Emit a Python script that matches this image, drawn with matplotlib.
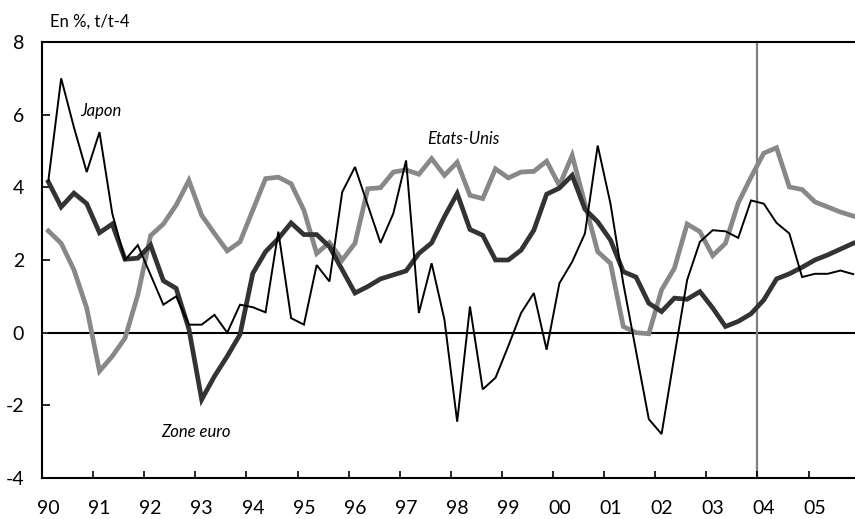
import numpy as np
import matplotlib
matplotlib.use("Agg")
import matplotlib.pyplot as plt

plt.rcParams['font.family'] = ['Lato', 'DejaVu Sans']

# quarterly, 1990Q1 .. 2005Q4, en % t/t-4
japon = [4.19, 7.0, 5.65, 4.42, 5.52, 3.28, 2.0, 2.41, 1.59, 0.77, 1.0, 0.22,
         0.22, 0.49, 0.0, 0.77, 0.70, 0.56, 2.78, 0.40, 0.22, 1.86, 1.41, 3.87,
         4.56, 3.51, 2.47, 3.28, 4.74, 0.54, 1.91, 0.36, -2.45, 0.72, -1.56, -1.24,
         -0.37, 0.54, 1.09, -0.47, 1.36, 1.95, 2.73, 5.15, 3.55, 1.36, -0.51, -2.38,
         -2.79, -0.65, 1.45, 2.50, 2.82, 2.79, 2.61, 3.64, 3.55, 3.02, 2.73, 1.53,
         1.62, 1.62, 1.71, 1.61]
zone_euro = [4.15, 3.46, 3.84, 3.55, 2.75, 2.99, 2.02, 2.05, 2.41, 1.43, 1.22, 0.1,
             -1.84, -1.2, -0.65, -0.05, 1.63, 2.23, 2.59, 3.02, 2.70, 2.70, 2.37, 1.73,
             1.09, 1.27, 1.48, 1.59, 1.70, 2.18, 2.47, 3.19, 3.83, 2.84, 2.68, 2.0,
             2.0, 2.27, 2.82, 3.81, 3.98, 4.33, 3.4, 3.05, 2.55, 1.68, 1.53, 0.81,
             0.58, 0.95, 0.92, 1.13, 0.68, 0.17, 0.31, 0.52, 0.90, 1.48, 1.62, 1.80,
             2.0, 2.14, 2.30, 2.46]
etats_unis = [2.80, 2.46, 1.73, 0.68, -1.06, -0.65, -0.15, 1.04, 2.67, 2.99, 3.51, 4.19,
              3.23, 2.73, 2.25, 2.50, 3.37, 4.24, 4.28, 4.10, 3.37, 2.18, 2.48, 2.0,
              2.46, 3.96, 3.99, 4.42, 4.48, 4.36, 4.79, 4.33, 4.69, 3.78, 3.69, 4.51,
              4.26, 4.42, 4.44, 4.72, 4.05, 4.88, 3.55, 2.23, 1.91, 0.17, 0.0, -0.03,
              1.18, 1.77, 2.99, 2.78, 2.12, 2.46, 3.57, 4.28, 4.94, 5.09, 4.01, 3.94,
              3.60, 3.46, 3.32, 3.21]
years = list(range(1990, 2006))
year_labels = [str(y)[2:] for y in years]

xs = 1990 + (np.arange(len(japon)) + 0.5) / 4.0

fig = plt.figure(figsize=(8.55, 5.19), dpi=100)
ax = fig.add_axes([42/855, 41/519, 813/855, 436/519])

ax.hlines(0, xs[0], 2006, color='black', lw=1.5, zorder=1)
ax.axvline(2004, color='#808080', lw=1.6, zorder=1)

ax.plot(xs, etats_unis, color='#888888', lw=3.4, solid_joinstyle='miter', zorder=2)
ax.plot(xs, zone_euro, color='#333333', lw=3.4, solid_joinstyle='miter', zorder=3)
ax.plot(xs, japon, color='black', lw=1.4, solid_joinstyle='miter', zorder=4)

ax.set_xlim(1990, 1990 + 813/51.1)
ax.set_ylim(-4, 8)
ax.set_yticks([-4, -2, 0, 2, 4, 6, 8])
ax.set_yticklabels(['-4', '-2', '0', '2', '4', '6', '8'])
ax.set_xticks(years)
ax.set_xticklabels([])
ax.set_xticks([y + 0.125 for y in years], minor=True)
ax.set_xticklabels(year_labels, minor=True)

ax.tick_params(axis='y', direction='in', length=6, width=1.2, labelsize=14, pad=13)
ax.tick_params(axis='x', which='major', direction='in', length=5, width=1.2)
ax.tick_params(axis='x', which='minor', length=0, labelsize=14, pad=16)

for s in ['left', 'top', 'bottom']:
    ax.spines[s].set_linewidth(1.5)
ax.spines['right'].set_visible(False)

ax.text(1990.74, 6.1, 'Japon', style='italic', fontsize=12, va='center')
ax.text(1997.53, 5.34, 'Etats-Unis', style='italic', fontsize=12, va='center')
ax.text(1992.33, -2.74, 'Zone euro', style='italic', fontsize=12, va='center')
fig.text(50/855, 1 - 22/519, 'En %, t/t-4', fontsize=12, va='center')

fig.savefig('out.png', dpi=100)
